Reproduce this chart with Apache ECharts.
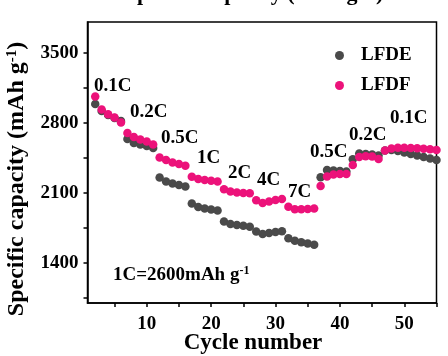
<!DOCTYPE html>
<html>
<head>
<meta charset="utf-8">
<script src="https://cdn.jsdelivr.net/npm/echarts@6/dist/echarts.min.js"></script>
<style>
html,body{margin:0;padding:0;background:#fff;}
#chart{width:448px;height:356px;}
</style>
</head>
<body>
<div id="chart"></div>
<script>
// ---- data ----
const cycles = [2,3,4,5,6,7,8,9,10,11,12,13,14,15,16,17,18,19,20,21,22,23,24,25,26,27,28,29,30,31,32,33,34,35,36,37,38,39,40,41,42,43,44,45,46,47,48,49,50,51,52,53,54,55];
const LFDE = [2990,2920,2880,2850,2820, 2640,2600,2585,2570,2550, 2255,2215,2195,2180,2165, 1995,1960,1945,1935,1925, 1815,1790,1780,1772,1762, 1715,1690,1700,1710,1718, 1648,1622,1607,1596,1582, 2258,2330,2325,2320,2315, 2437,2495,2490,2485,2475, 2525,2530,2520,2505,2490,2475,2460,2445,2430];
const LFDF = [3065,2935,2888,2855,2805, 2700,2660,2635,2615,2585, 2455,2430,2405,2390,2372, 2262,2240,2230,2222,2215, 2137,2115,2105,2100,2097, 2028,2000,2015,2030,2040, 1962,1938,1937,1940,1945, 2170,2265,2285,2290,2290, 2380,2460,2468,2465,2440, 2525,2545,2552,2553,2550,2547,2542,2537,2530];
const seriesNames = ['LFDE','LFDF'];
const yLabelTicks = [1400,2100,2800,3500];
const yAllTicks = [1050,1400,1750,2100,2450,2800,3150,3500];
const xLabelTicks = [10,20,30,40,50];
const xAllTicks = [5,10,15,20,25,30,35,40,45,50,55];
const rateLabels = ['0.1C','0.2C','0.5C','1C','2C','4C','7C','0.5C','0.2C','0.1C'];

const FONT = '"Liberation Serif","Times New Roman",serif';
const GRAY = '#4a4a4a', PINK = '#ec127a';

const chart = echarts.init(document.getElementById('chart'), null, {renderer:'canvas'});

function pairs(ys){ return ys.map((v,i)=>[cycles[i], v]); }

// label anchor pixel positions (left, vertical center)
const rateLabelPos = [[94,86],[130,112],[161,138],[197,158],[228,173],[257,180],[288,192],[310,152],[349,135],[390,118]];

const graphics = rateLabels.map((t,i)=>({
  type:'text', x:rateLabelPos[i][0], y:rateLabelPos[i][1], z:10,
  style:{text:t, font:'bold 19px '+FONT, fill:'#000', textAlign:'left', textVerticalAlign:'middle'}
}));
graphics.push({
  type:'text', x:113, y:275, z:10,
  style:{text:'1C=2600mAh g{s|-1}', font:'bold 19px '+FONT, fill:'#000', textAlign:'left', textVerticalAlign:'middle',
    rich:{s:{fontSize:12, fontWeight:'bold', fontFamily:FONT, verticalAlign:'top', padding:[0,0,8,0]}}}
});
graphics.push({
  type:'text', x:17, y:179, rotation:Math.PI/2, z:10,
  style:{text:'Specific capacity (mAh g{s|-1})', font:'bold 24px '+FONT, fill:'#000', textAlign:'center', textVerticalAlign:'middle',
    rich:{s:{fontSize:15, fontWeight:'bold', fontFamily:FONT, padding:[0,0,10,0]}}}
});
graphics.push({
  type:'text', x:253, y:343, z:10,
  style:{text:'Cycle number', font:'bold 23px '+FONT, fill:'#000', textAlign:'center', textVerticalAlign:'middle'}
});
graphics.push({
  type:'text', x:254, y:-6, z:10,
  style:{text:'Specific capacity (mAh g-1)', font:'bold 22px '+FONT, fill:'#000', textAlign:'center', textVerticalAlign:'middle'}
});

chart.setOption({
  backgroundColor:'#fff',
  animation:false,
  grid:{left:87.5, right:11.5, top:22, bottom:53, show:true, borderColor:'#000', borderWidth:1.5, backgroundColor:'transparent'},
  legend:{
    data:seriesNames, orient:'vertical', left:330, top:41, itemGap:11,
    icon:'circle', itemWidth:9, itemHeight:9,
    textStyle:{fontFamily:FONT, fontWeight:'bold', fontSize:19, color:'#000', padding:[0,0,0,12]}
  },
  xAxis:{
    type:'value', min:0.8, max:55,
    axisLine:{show:true, lineStyle:{color:'#000', width:1.5}}, splitLine:{show:false},
    axisTick:{show:true, inside:false, length:4, customValues:xAllTicks, lineStyle:{color:'#000', width:1.5}},
    axisLabel:{customValues:xLabelTicks, formatter:v=>String(v), fontFamily:FONT, fontWeight:'bold', fontSize:19, color:'#000', margin:12}
  },
  yAxis:{
    type:'value', min:1000, max:3810,
    axisLine:{show:true, lineStyle:{color:'#000', width:1.5}}, splitLine:{show:false},
    axisTick:{show:true, length:4, customValues:yAllTicks, lineStyle:{color:'#000', width:1.5}},
    axisLabel:{customValues:yLabelTicks, formatter:v=>String(v), fontFamily:FONT, fontWeight:'bold', fontSize:19, color:'#000', margin:9}
  },
  series:[
    {name:seriesNames[0], type:'scatter', symbol:'circle', symbolSize:8.5, itemStyle:{color:GRAY, opacity:1}, data:pairs(LFDE), z:2},
    {name:seriesNames[1], type:'scatter', symbol:'circle', symbolSize:8.5, itemStyle:{color:PINK, opacity:1}, data:pairs(LFDF), z:3}
  ],
  graphic:graphics
});
</script>
</body>
</html>
